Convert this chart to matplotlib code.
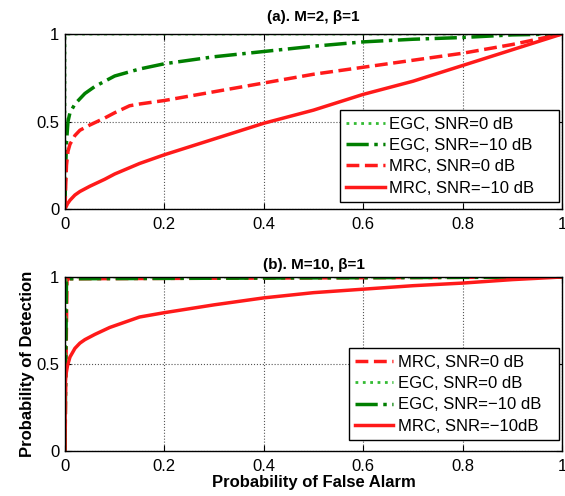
import matplotlib.pyplot as plt

plt.rcParams['font.family'] = ['Liberation Sans', 'DejaVu Sans']

# (a) M=2
egc0_a_x = [0, 0.0, 0.002, 1.0]
egc0_a_y = [0, 0.99, 1.0, 1.0]
egc10_a_x = [0, 0.001, 0.003, 0.006, 0.01, 0.02, 0.04, 0.06, 0.1, 0.15, 0.2, 0.3, 0.4, 0.5, 0.6, 0.7, 0.8, 0.9, 1.0]
egc10_a_y = [0, 0.2, 0.38, 0.5, 0.55, 0.6, 0.66, 0.70, 0.76, 0.80, 0.83, 0.87, 0.90, 0.93, 0.955, 0.97, 0.98, 0.995, 1.0]
mrc0_a_x = [0, 0.001, 0.003, 0.006, 0.01, 0.02, 0.03, 0.05, 0.08, 0.1, 0.13, 0.15, 0.2, 0.3, 0.4, 0.5, 0.6, 0.7, 0.8, 0.9, 1.0]
mrc0_a_y = [0, 0.1, 0.25, 0.33, 0.37, 0.42, 0.45, 0.48, 0.52, 0.55, 0.59, 0.60, 0.62, 0.67, 0.72, 0.77, 0.81, 0.85, 0.89, 0.94, 1.0]
mrc10_a_x = [0, 0.005, 0.01, 0.02, 0.03, 0.05, 0.08, 0.1, 0.15, 0.2, 0.3, 0.4, 0.5, 0.6, 0.7, 0.8, 0.9, 1.0]
mrc10_a_y = [0, 0.03, 0.05, 0.08, 0.10, 0.13, 0.17, 0.20, 0.26, 0.31, 0.40, 0.49, 0.565, 0.655, 0.73, 0.82, 0.91, 1.0]

# (b) M=10
mrc0_b_x = [0, 0.004, 0.006, 1.0]
mrc0_b_y = [0, 0.99, 0.99, 1.0]
egc0_b_x = [0, 0.002, 0.004, 1.0]
egc0_b_y = [0, 0.99, 1.0, 1.0]
egc10_b_x = [0, 0.003, 0.005, 1.0]
egc10_b_y = [0, 0.98, 0.99, 1.0]
mrc10_b_x = [0, 0.0005, 0.002, 0.005, 0.01, 0.02, 0.03, 0.04, 0.06, 0.09, 0.12, 0.15, 0.2, 0.3, 0.4, 0.5, 0.6, 0.7, 0.8, 0.9, 1.0]
mrc10_b_y = [0, 0.38, 0.44, 0.49, 0.54, 0.59, 0.62, 0.64, 0.67, 0.71, 0.74, 0.77, 0.795, 0.84, 0.88, 0.91, 0.93, 0.95, 0.965, 0.985, 1.0]

light_green = '#33bb33'
dark_green = '#007f00'
red = '#ff1a1a'

fig = plt.figure(figsize=(5.65, 4.96), dpi=100)
ax1 = fig.add_axes([65 / 565, 1 - 209 / 496, 497 / 565, 175 / 496])
ax2 = fig.add_axes([65 / 565, 1 - 451 / 496, 497 / 565, 174 / 496])


def style_axes(ax, title, pad):
    ax.set_xlim(0, 1)
    ax.set_ylim(0, 1)
    ax.set_xticks([0, 0.2, 0.4, 0.6, 0.8, 1])
    ax.set_xticklabels(['0', '0.2', '0.4', '0.6', '0.8', '1'])
    ax.set_yticks([0, 0.5, 1])
    ax.set_yticklabels(['0', '0.5', '1'])
    ax.grid(True, linestyle=':', color='#555555', linewidth=0.8)
    ax.tick_params(direction='in', labelsize=12, top=True, right=True, length=4, pad=4)
    ax.tick_params(axis='x', pad=5.5)
    ax.set_title(title, fontsize=11, fontweight='bold', pad=pad)
    for s in ax.spines.values():
        s.set_linewidth(1.0)


# legend boxes are wide with extra room on the right, like matlab
def add_legend(ax, box):
    ax.legend(loc='lower left', bbox_to_anchor=box, mode='expand', fontsize=12,
              fancybox=False, edgecolor='black', framealpha=1, handlelength=2.3,
              handletextpad=0.25, borderpad=0.38, labelspacing=0.38, borderaxespad=0)


ax1.plot(egc0_a_x, egc0_a_y, linestyle=':', color=light_green, linewidth=2, label='EGC, SNR=0 dB')
ax1.plot(egc10_a_x, egc10_a_y, linestyle='-.', color=dark_green, linewidth=2.5, label='EGC, SNR=\u221210 dB')
ax1.plot(mrc0_a_x, mrc0_a_y, linestyle='--', color=red, linewidth=2.5, label='MRC, SNR=0 dB')
ax1.plot(mrc10_a_x, mrc10_a_y, linestyle='-', color=red, linewidth=2.5, label='MRC, SNR=\u221210 dB')
style_axes(ax1, '(a). M=2, \u03b2=1', 9)
add_legend(ax1, (0.553, 0.04, 0.441, 0.5))

ax2.plot(mrc0_b_x, mrc0_b_y, linestyle='--', color=red, linewidth=2.5, label='MRC, SNR=0 dB')
ax2.plot(egc0_b_x, egc0_b_y, linestyle=':', color=light_green, linewidth=2, label='EGC, SNR=0 dB')
ax2.plot(egc10_b_x, egc10_b_y, linestyle='-.', color=dark_green, linewidth=2.5, label='EGC, SNR=\u221210 dB')
ax2.plot(mrc10_b_x, mrc10_b_y, linestyle='-', color=red, linewidth=2.5, label='MRC, SNR=\u221210dB')
style_axes(ax2, '(b). M=10, \u03b2=1', 6)
add_legend(ax2, (0.571, 0.063, 0.423, 0.5))
ax2.set_xlabel('Probability of False Alarm', fontsize=12, fontweight='bold', labelpad=1)
ax2.set_ylabel('Probability of Detection', fontsize=12, fontweight='bold', labelpad=1)

fig.savefig('out.png', dpi=100)
